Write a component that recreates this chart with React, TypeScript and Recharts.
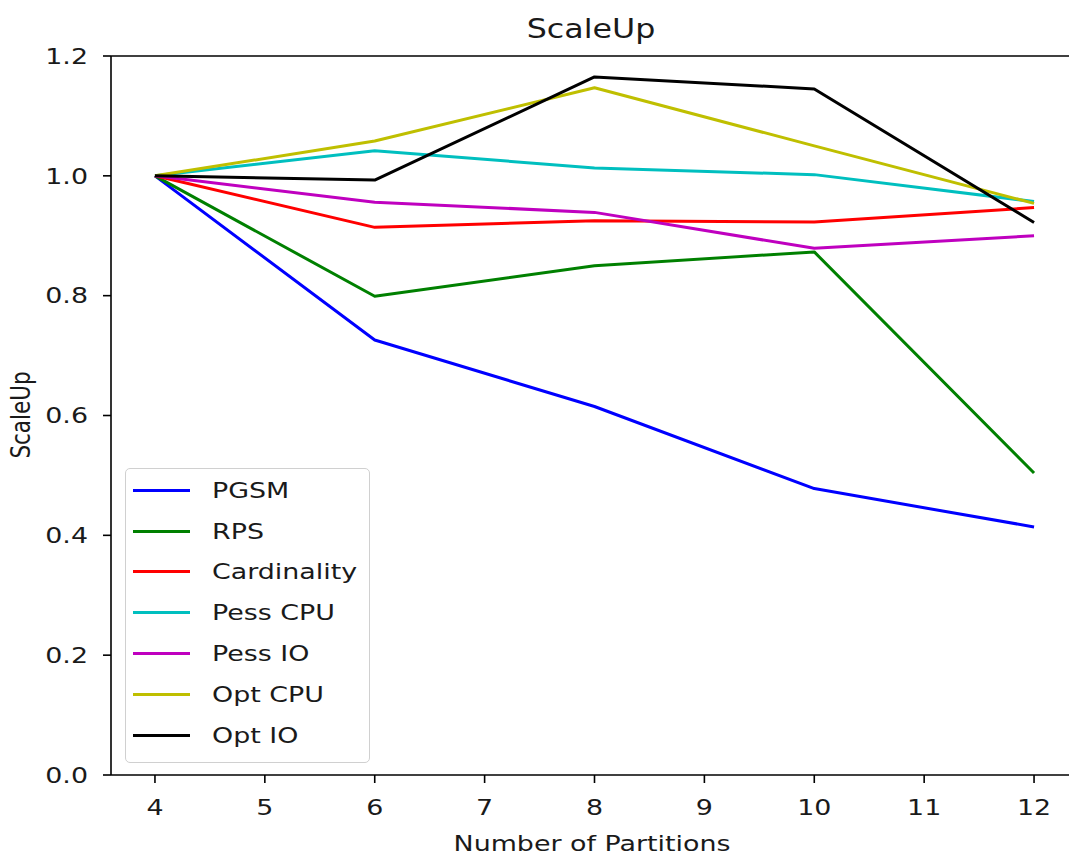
import { Line, LineChart, ReferenceLine, XAxis, YAxis } from "recharts";

// values
const partitions = [4, 6, 8, 10, 12];
const pgsm = [1.0, 0.726, 0.615, 0.478, 0.414];
const rps = [1.0, 0.799, 0.85, 0.873, 0.504];
const cardinality = [1.0, 0.914, 0.925, 0.923, 0.947];
const pessCpu = [1.0, 1.042, 1.013, 1.002, 0.957];
const pessIo = [1.0, 0.956, 0.939, 0.879, 0.9];
const optCpu = [1.0, 1.058, 1.147, 1.05, 0.954];
const optIo = [1.0, 0.993, 1.165, 1.145, 0.922];

const xTicks = [4, 5, 6, 7, 8, 9, 10, 11, 12];
const yTicks = [0, 0.2, 0.4, 0.6, 0.8, 1.0, 1.2];

const series = [
  { key: "pgsm", name: "PGSM", color: "#0000ff", values: pgsm },
  { key: "rps", name: "RPS", color: "#008000", values: rps },
  { key: "cardinality", name: "Cardinality", color: "#ff0000", values: cardinality },
  { key: "pessCpu", name: "Pess CPU", color: "#00bfbf", values: pessCpu },
  { key: "pessIo", name: "Pess IO", color: "#bf00bf", values: pessIo },
  { key: "optCpu", name: "Opt CPU", color: "#bfbf00", values: optCpu },
  { key: "optIo", name: "Opt IO", color: "#000000", values: optIo },
];

const data = partitions.map((p, i) => {
  const row: Record<string, number> = { partitions: p };
  series.forEach((s) => (row[s.key] = s.values[i]));
  return row;
});

const FONT = "'DejaVu Sans', sans-serif";
const SX = 1.25; // the source image is stretched sideways
const FS = 21.5;
const INK = "#1a1a1a";
const SPINE = { stroke: "#000", strokeWidth: 1.6 };

function XTick({ x, y, payload }: any) {
  return (
    <g transform={`translate(${x},${y + 32}) scale(${SX},1)`}>
      <text textAnchor="middle" fontSize={FS} fontFamily={FONT} fill={INK}>
        {payload.value}
      </text>
    </g>
  );
}

function YTick({ x, y, payload }: any) {
  return (
    <g transform={`translate(${x - 15},${y + 7.8}) scale(${SX},1)`}>
      <text textAnchor="end" fontSize={FS} fontFamily={FONT} fill={INK}>
        {Number(payload.value).toFixed(1)}
      </text>
    </g>
  );
}

function ChartLegend() {
  return (
    <div
      style={{
        position: "absolute",
        left: 125,
        top: 468,
        width: 243,
        height: 292,
        border: "1px solid #d0d0d0",
        borderRadius: 5,
        background: "rgba(255,255,255,0.8)",
        paddingTop: 1,
        boxSizing: "content-box",
      }}
    >
      {series.map((s) => (
        <div key={s.key} style={{ height: 40.8, display: "flex", alignItems: "center" }}>
          <div style={{ marginLeft: 7, width: 57, height: 3, background: s.color }} />
          <div
            style={{
              marginLeft: 22,
              fontFamily: FONT,
              fontSize: FS,
              color: INK,
              whiteSpace: "nowrap",
              transform: `scaleX(${SX})`,
              transformOrigin: "left center",
            }}
          >
            {s.name}
          </div>
        </div>
      ))}
    </div>
  );
}

export default function App() {
  return (
    <div
      style={{
        position: "absolute",
        left: 0,
        top: 0,
        width: 1069,
        height: 858,
        overflow: "hidden",
        background: "#fff",
      }}
    >
      <LineChart
        width={1090}
        height={858}
        data={data}
        margin={{ top: 56, right: 12, bottom: 23, left: 11 }}
      >
        <XAxis
          dataKey="partitions"
          type="number"
          domain={[3.6, 12.4]}
          ticks={xTicks}
          allowDataOverflow
          height={60}
          tickSize={8}
          tickMargin={0}
          axisLine={SPINE}
          tickLine={SPINE}
          tick={XTick}
        />
        <YAxis
          type="number"
          domain={[0, 1.2]}
          ticks={yTicks}
          allowDataOverflow
          width={100}
          tickSize={8}
          tickMargin={0}
          axisLine={SPINE}
          tickLine={SPINE}
          tick={YTick}
        />
        <ReferenceLine y={1.2} {...SPINE} />
        <ReferenceLine x={12.4} {...SPINE} />
        {series.map((s) => (
          <Line
            key={s.key}
            type="linear"
            dataKey={s.key}
            name={s.name}
            stroke={s.color}
            strokeWidth={3}
            dot={false}
            activeDot={false}
            isAnimationActive={false}
            strokeLinejoin="round"
          />
        ))}
      </LineChart>
      <svg
        width={1069}
        height={858}
        style={{ position: "absolute", left: 0, top: 0, pointerEvents: "none" }}
      >
        <g transform={`translate(591,38) scale(1.22,1)`}>
          <text textAnchor="middle" fontSize={26} fontFamily={FONT} fill={INK}>
            ScaleUp
          </text>
        </g>
        <g transform={`translate(592,851) scale(${SX},1)`}>
          <text textAnchor="middle" fontSize={FS} fontFamily={FONT} fill={INK}>
            Number of Partitions
          </text>
        </g>
        <g transform={`translate(30,415) scale(${SX},1) rotate(-90)`}>
          <text textAnchor="middle" fontSize={FS} fontFamily={FONT} fill={INK}>
            ScaleUp
          </text>
        </g>
      </svg>
      <ChartLegend />
    </div>
  );
}
